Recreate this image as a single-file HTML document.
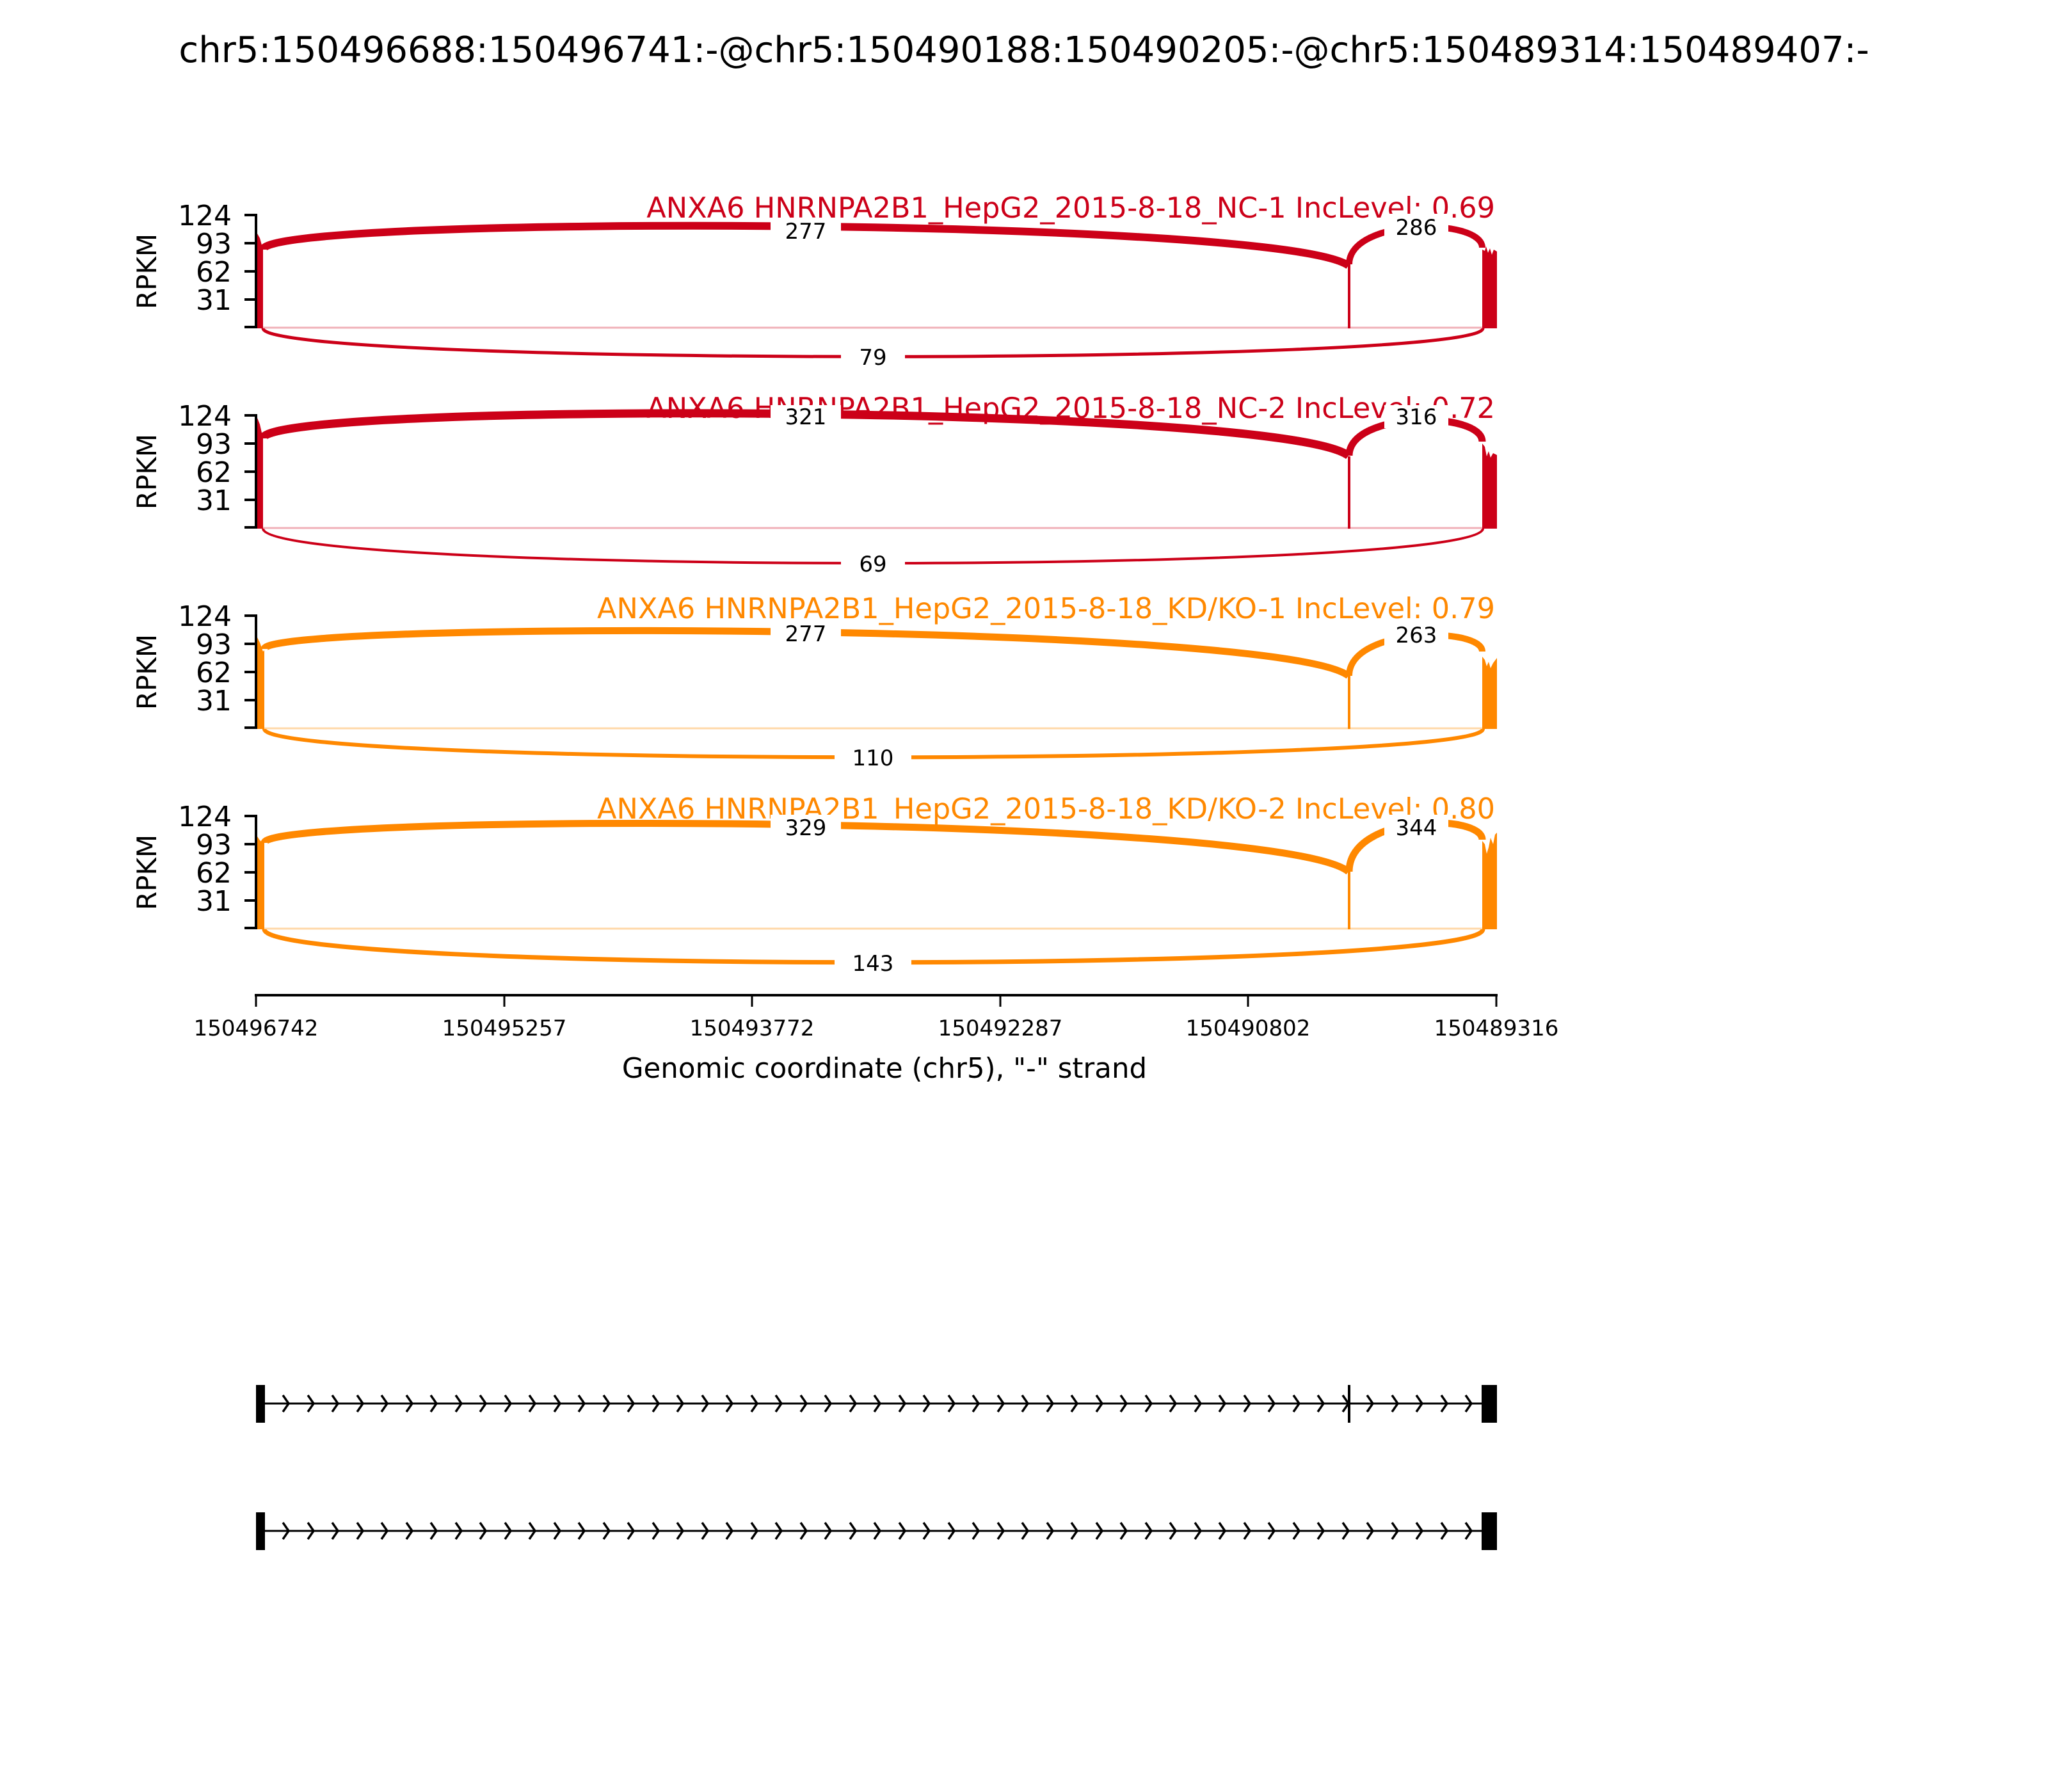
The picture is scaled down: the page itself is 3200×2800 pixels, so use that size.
<!DOCTYPE html>
<html><head><meta charset="utf-8"><style>
html,body{margin:0;padding:0;background:#fff}
svg{display:block}
text{font-family:"DejaVu Sans","Liberation Sans",sans-serif}
</style></head><body>
<svg width="3200" height="2800" viewBox="0 0 3200 2800" xmlns="http://www.w3.org/2000/svg">
<rect width="3200" height="2800" fill="#fff"/>
<text x="1600" y="97" font-size="56" text-anchor="middle">chr5:150496688:150496741:-@chr5:150490188:150490205:-@chr5:150489314:150489407:-</text>

<!-- Panel 1 -->
<g>
<text x="2336" y="340" font-size="44.6" fill="#cc0018" text-anchor="end">ANXA6 HNRNPA2B1_HepG2_2015-8-18_NC-1 IncLevel: 0.69</text>
<line x1="400" y1="334" x2="400" y2="513" stroke="#000" stroke-width="4"/>
<g stroke="#000" stroke-width="4"><line x1="382" y1="336" x2="400" y2="336"/><line x1="382" y1="380" x2="400" y2="380"/><line x1="382" y1="424" x2="400" y2="424"/><line x1="382" y1="468" x2="400" y2="468"/><line x1="382" y1="511" x2="400" y2="511"/></g>
<g font-size="44" text-anchor="end"><text x="362" y="352">124</text><text x="362" y="396">93</text><text x="362" y="440">62</text><text x="362" y="484">31</text></g>
<text transform="translate(244,424) rotate(-90)" font-size="42" text-anchor="middle">RPKM</text>
<line x1="410" y1="512" x2="2316" y2="512" stroke="#f0b0b8" stroke-width="3"/>
<polygon points="402,513 402,365 406,372 411,390 411,513" fill="#cc0018"/>
<polygon points="2316,513 2316,390 2320,392 2322,385 2325,395 2328,388 2331,398 2334,390 2339,393 2339,513" fill="#cc0018"/>
<line x1="2108" y1="413" x2="2108" y2="513" stroke="#cc0018" stroke-width="4"/>
<path d="M411,390 C411,335 2000,339 2107,415" fill="none" stroke="#cc0018" stroke-width="12"/>
<path d="M2108,413 C2108,340 2316,340 2316,387" fill="none" stroke="#cc0018" stroke-width="10"/>
<path d="M411,513 C411,572 2317,572 2317,513" fill="none" stroke="#cc0018" stroke-width="5"/>
<rect x="1204" y="340" width="110" height="40" fill="#fff"/><text x="1259" y="373" font-size="34" text-anchor="middle">277</text>
<rect x="2163" y="334" width="100" height="40" fill="#fff"/><text x="2213" y="367" font-size="34" text-anchor="middle">286</text>
<rect x="1314" y="538" width="100" height="40" fill="#fff"/><text x="1364" y="570" font-size="34" text-anchor="middle">79</text>
</g>

<!-- Panel 2 -->
<g transform="translate(0,313)">
<text x="2336" y="340" font-size="44.6" fill="#cc0018" text-anchor="end">ANXA6 HNRNPA2B1_HepG2_2015-8-18_NC-2 IncLevel: 0.72</text>
<line x1="400" y1="334" x2="400" y2="513" stroke="#000" stroke-width="4"/>
<g stroke="#000" stroke-width="4"><line x1="382" y1="336" x2="400" y2="336"/><line x1="382" y1="380" x2="400" y2="380"/><line x1="382" y1="424" x2="400" y2="424"/><line x1="382" y1="468" x2="400" y2="468"/><line x1="382" y1="511" x2="400" y2="511"/></g>
<g font-size="44" text-anchor="end"><text x="362" y="352">124</text><text x="362" y="396">93</text><text x="362" y="440">62</text><text x="362" y="484">31</text></g>
<text transform="translate(244,424) rotate(-90)" font-size="42" text-anchor="middle">RPKM</text>
<line x1="410" y1="512" x2="2316" y2="512" stroke="#f0b0b8" stroke-width="3"/>
<polygon points="402,513 402,340 406,350 411,372 411,513" fill="#cc0018"/>
<polygon points="2316,513 2316,380 2320,385 2323,400 2326,392 2329,402 2333,395 2339,398 2339,513" fill="#cc0018"/>
<line x1="2108" y1="400" x2="2108" y2="513" stroke="#cc0018" stroke-width="4"/>
<path d="M411,372 C411,314 2000,318 2107,399" fill="none" stroke="#cc0018" stroke-width="13"/>
<path d="M2108,399 C2108,329 2316,329 2316,377" fill="none" stroke="#cc0018" stroke-width="11"/>
<path d="M411,513 C411,585 2317,585 2317,513" fill="none" stroke="#cc0018" stroke-width="4"/>
<rect x="1204" y="320" width="110" height="36" fill="#fff"/><text x="1259" y="350" font-size="34" text-anchor="middle">321</text>
<rect x="2163" y="320" width="100" height="36" fill="#fff"/><text x="2213" y="350" font-size="34" text-anchor="middle">316</text>
<rect x="1314" y="548" width="100" height="40" fill="#fff"/><text x="1364" y="580" font-size="34" text-anchor="middle">69</text>
</g>

<!-- Panel 3 -->
<g transform="translate(0,626)">
<text x="2336" y="340" font-size="44.6" fill="#ff8800" text-anchor="end">ANXA6 HNRNPA2B1_HepG2_2015-8-18_KD/KO-1 IncLevel: 0.79</text>
<line x1="400" y1="334" x2="400" y2="513" stroke="#000" stroke-width="4"/>
<g stroke="#000" stroke-width="4"><line x1="382" y1="336" x2="400" y2="336"/><line x1="382" y1="380" x2="400" y2="380"/><line x1="382" y1="424" x2="400" y2="424"/><line x1="382" y1="468" x2="400" y2="468"/><line x1="382" y1="511" x2="400" y2="511"/></g>
<g font-size="44" text-anchor="end"><text x="362" y="352">124</text><text x="362" y="396">93</text><text x="362" y="440">62</text><text x="362" y="484">31</text></g>
<text transform="translate(244,424) rotate(-90)" font-size="42" text-anchor="middle">RPKM</text>
<line x1="410" y1="512" x2="2316" y2="512" stroke="#ffd8a8" stroke-width="3"/>
<polygon points="402,513 402,370 406,378 411,392 413,390 413,513" fill="#ff8800"/>
<polygon points="2316,513 2316,400 2320,405 2323,415 2326,408 2329,418 2333,410 2339,402 2339,513" fill="#ff8800"/>
<line x1="2108" y1="425" x2="2108" y2="513" stroke="#ff8800" stroke-width="4"/>
<path d="M413,388 C413,343 2000,347 2107,430" fill="none" stroke="#ff8800" stroke-width="11"/>
<path d="M2108,430 C2108,353 2316,353 2316,392" fill="none" stroke="#ff8800" stroke-width="10"/>
<path d="M413,513 C413,572 2317,572 2317,513" fill="none" stroke="#ff8800" stroke-width="6"/>
<rect x="1204" y="344" width="110" height="38" fill="#fff"/><text x="1259" y="376" font-size="34" text-anchor="middle">277</text>
<rect x="2163" y="346" width="100" height="38" fill="#fff"/><text x="2213" y="378" font-size="34" text-anchor="middle">263</text>
<rect x="1304" y="538" width="120" height="40" fill="#fff"/><text x="1364" y="570" font-size="34" text-anchor="middle">110</text>
</g>

<!-- Panel 4 -->
<g transform="translate(0,939)">
<text x="2336" y="340" font-size="44.6" fill="#ff8800" text-anchor="end">ANXA6 HNRNPA2B1_HepG2_2015-8-18_KD/KO-2 IncLevel: 0.80</text>
<line x1="400" y1="334" x2="400" y2="513" stroke="#000" stroke-width="4"/>
<g stroke="#000" stroke-width="4"><line x1="382" y1="336" x2="400" y2="336"/><line x1="382" y1="380" x2="400" y2="380"/><line x1="382" y1="424" x2="400" y2="424"/><line x1="382" y1="468" x2="400" y2="468"/><line x1="382" y1="511" x2="400" y2="511"/></g>
<g font-size="44" text-anchor="end"><text x="362" y="352">124</text><text x="362" y="396">93</text><text x="362" y="440">62</text><text x="362" y="484">31</text></g>
<text transform="translate(244,424) rotate(-90)" font-size="42" text-anchor="middle">RPKM</text>
<line x1="410" y1="512" x2="2316" y2="512" stroke="#ffd8a8" stroke-width="3"/>
<polygon points="402,513 402,368 406,374 411,378 413,378 413,513" fill="#ff8800"/>
<polygon points="2316,513 2316,375 2320,380 2323,395 2326,385 2329,370 2333,380 2336,365 2339,362 2339,513" fill="#ff8800"/>
<line x1="2108" y1="418" x2="2108" y2="513" stroke="#ff8800" stroke-width="4"/>
<path d="M413,378 C413,330 2000,334 2107,423" fill="none" stroke="#ff8800" stroke-width="11"/>
<path d="M2108,423 C2108,332 2316,332 2316,373" fill="none" stroke="#ff8800" stroke-width="11"/>
<path d="M413,513 C413,582 2317,582 2317,513" fill="none" stroke="#ff8800" stroke-width="7"/>
<rect x="1204" y="334" width="110" height="38" fill="#fff"/><text x="1259" y="366" font-size="34" text-anchor="middle">329</text>
<rect x="2163" y="334" width="100" height="38" fill="#fff"/><text x="2213" y="366" font-size="34" text-anchor="middle">344</text>
<rect x="1304" y="546" width="120" height="40" fill="#fff"/><text x="1364" y="578" font-size="34" text-anchor="middle">143</text>
</g>

<!-- X axis -->
<line x1="398" y1="1555" x2="2340" y2="1555" stroke="#000" stroke-width="4"/>
<g stroke="#000" stroke-width="3"><line x1="400" y1="1555" x2="400" y2="1573"/><line x1="788" y1="1555" x2="788" y2="1573"/><line x1="1175" y1="1555" x2="1175" y2="1573"/><line x1="1563" y1="1555" x2="1563" y2="1573"/><line x1="1950" y1="1555" x2="1950" y2="1573"/><line x1="2338" y1="1555" x2="2338" y2="1573"/></g>
<g font-size="34" text-anchor="middle"><text x="400" y="1618">150496742</text><text x="788" y="1618">150495257</text><text x="1175" y="1618">150493772</text><text x="1563" y="1618">150492287</text><text x="1950" y="1618">150490802</text><text x="2338" y="1618">150489316</text></g>
<text x="1382" y="1684" font-size="43.5" text-anchor="middle">Genomic coordinate (chr5), "-" strand</text>

<!-- Gene tracks -->
<line x1="405" y1="2193" x2="2335" y2="2193" stroke="#000" stroke-width="3"/>
<rect x="400" y="2164" width="14" height="59" fill="#000"/>
<rect x="2315" y="2164" width="24" height="59" fill="#000"/>
<rect x="2106" y="2164" width="4" height="59" fill="#000"/>
<line x1="405" y1="2392" x2="2335" y2="2392" stroke="#000" stroke-width="3"/>
<rect x="400" y="2363" width="14" height="59" fill="#000"/>
<rect x="2315" y="2363" width="24" height="59" fill="#000"/>
<g fill="none" stroke="#000" stroke-width="3.5" id="chev">
<path d="M442,2180 L451,2193 L442,2206 M481,2180 L490,2193 L481,2206 M519,2180 L528,2193 L519,2206 M558,2180 L567,2193 L558,2206 M596,2180 L605,2193 L596,2206 M635,2180 L644,2193 L635,2206 M673,2180 L682,2193 L673,2206 M712,2180 L721,2193 L712,2206 M750,2180 L759,2193 L750,2206 M789,2180 L798,2193 L789,2206 M827,2180 L836,2193 L827,2206 M866,2180 L875,2193 L866,2206 M904,2180 L913,2193 L904,2206 M943,2180 L952,2193 L943,2206 M981,2180 L990,2193 L981,2206 M1020,2180 L1029,2193 L1020,2206 M1058,2180 L1067,2193 L1058,2206 M1097,2180 L1106,2193 L1097,2206 M1135,2180 L1144,2193 L1135,2206 M1174,2180 L1183,2193 L1174,2206 M1212,2180 L1221,2193 L1212,2206 M1251,2180 L1260,2193 L1251,2206 M1289,2180 L1298,2193 L1289,2206 M1328,2180 L1337,2193 L1328,2206 M1366,2180 L1375,2193 L1366,2206 M1405,2180 L1414,2193 L1405,2206 M1443,2180 L1452,2193 L1443,2206 M1482,2180 L1491,2193 L1482,2206 M1520,2180 L1529,2193 L1520,2206 M1559,2180 L1568,2193 L1559,2206 M1597,2180 L1606,2193 L1597,2206 M1636,2180 L1645,2193 L1636,2206 M1674,2180 L1683,2193 L1674,2206 M1713,2180 L1722,2193 L1713,2206 M1751,2180 L1760,2193 L1751,2206 M1790,2180 L1799,2193 L1790,2206 M1828,2180 L1837,2193 L1828,2206 M1867,2180 L1876,2193 L1867,2206 M1905,2180 L1914,2193 L1905,2206 M1944,2180 L1953,2193 L1944,2206 M1982,2180 L1991,2193 L1982,2206 M2021,2180 L2030,2193 L2021,2206 M2059,2180 L2068,2193 L2059,2206 M2098,2180 L2107,2193 L2098,2206 M2136,2180 L2145,2193 L2136,2206 M2175,2180 L2184,2193 L2175,2206 M2213,2180 L2222,2193 L2213,2206 M2252,2180 L2261,2193 L2252,2206 M2290,2180 L2299,2193 L2290,2206"/>
</g>
<use href="#chev" transform="translate(0,199)"/>
</svg>
</body></html>
